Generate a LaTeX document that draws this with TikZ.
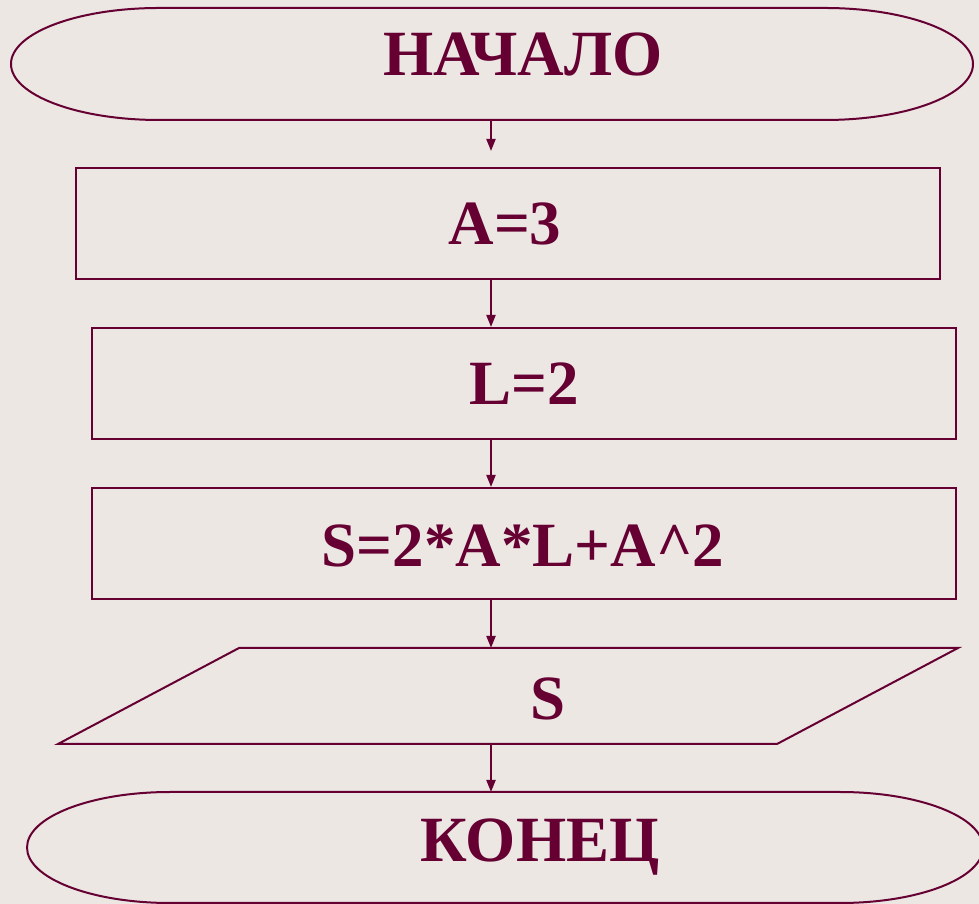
\documentclass[tikz,border=0pt]{standalone}
\usepackage{fontspec}
\setmainfont{Liberation Serif}
\usetikzlibrary{arrows.meta}
\definecolor{maroon}{HTML}{660033}
\definecolor{bg}{HTML}{ECE7E3}
\tikzset{
  outline/.style={draw=maroon, line width=2pt, line join=miter},
  conn/.style={draw=maroon, line width=2pt, -{Triangle[length=12pt,width=9pt]}},
  label/.style={text=maroon, anchor=base, inner sep=0pt, font=\fontsize{63}{72}\selectfont\bfseries},
  biglabel/.style={label, font=\fontsize{64.5}{72}\selectfont\bfseries},
  boxnode/.style={outline, minimum width=864pt, minimum height=111pt, inner sep=0pt}
}
\begin{document}
\begin{tikzpicture}[x=1pt,y=1pt]
\useasboundingbox (0,0) rectangle (979,904);
\fill[bg] (0,0) rectangle (979,904);
% start terminator
\draw[outline] (159,896) -- (825,896) arc[start angle=90,end angle=-90,x radius=148,y radius=56]
  -- (159,784) arc[start angle=270,end angle=90,x radius=148,y radius=56] -- cycle;
\coordinate (startb) at (491,784);
\node[biglabel] (tstart) at (523,828) {НАЧАЛО};
% process boxes
\node[boxnode] (r1) at (508,680.5) {};
\node[boxnode] (r2) at (524,520.5) {};
\node[boxnode] (r3) at (524,360.5) {};
\node[label] (t1) at (505,659) {A=3};
\node[label] (t2) at (524,499) {L=2};
\node[label] (t3) at (523,337) {S=2*A*L+A\textasciicircum2};
% output parallelogram
\draw[outline] (239,256) -- (958,256) -- (777,160) -- (58,160) -- cycle;
\coordinate (pt) at (491,256);
\coordinate (pb) at (491,160);
\node[label] (tp) at (548,184) {S};
% end terminator
\draw[outline] (170,112) -- (840,112) arc[start angle=90,end angle=-90,x radius=143,y radius=55.5]
  -- (170,1) arc[start angle=270,end angle=90,x radius=143,y radius=55.5] -- cycle;
\coordinate (endt) at (491,112);
\node[biglabel] (tend) at (540,42) {КОНЕЦ};
% connectors
\draw[conn, shorten >=16pt] (startb) -- (startb |- r1.north);
\draw[conn] (startb |- r1.south) -- (startb |- r2.north);
\draw[conn] (startb |- r2.south) -- (startb |- r3.north);
\draw[conn] (startb |- r3.south) -- (pt);
\draw[conn] (pb) -- (endt);
\end{tikzpicture}
\end{document}
